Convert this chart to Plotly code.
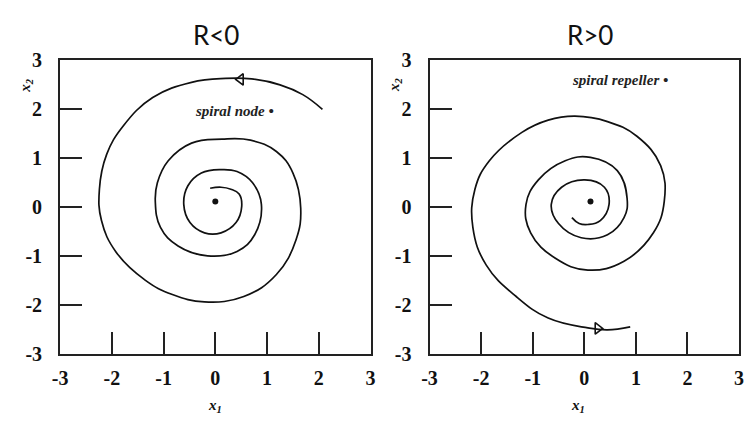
import plotly.graph_objects as go

# ---- data ----
node_x = [2.07, 1.69, 1.25, 0.7, 0.2, -0.46, -1.21, -1.78, -2.1, -2.24, -2.2, -1.92, -1.35, -0.83, -0.21,
          0.55, 1.18, 1.56, 1.65, 1.5, 1.18, 0.68, 0.13, -0.46, -0.91, -1.12, -1.16, -1.06, -0.72, -0.15,
          0.42, 0.76, 0.89, 0.72, 0.42, 0.11, -0.27, -0.53, -0.61, -0.49, -0.21, 0.11, 0.4, 0.51, 0.46,
          0.3, 0.11, -0.1]
node_y = [2.0, 2.3, 2.5, 2.62, 2.63, 2.55, 2.24, 1.66, 1.08, 0.37, -0.27, -0.91, -1.49, -1.78, -1.93,
          -1.82, -1.37, -0.66, -0.02, 0.7, 1.14, 1.37, 1.39, 1.31, 0.95, 0.5, 0.12, -0.41, -0.79, -0.99,
          -0.9, -0.56, 0.06, 0.5, 0.73, 0.77, 0.7, 0.44, 0.06, -0.31, -0.52, -0.52, -0.31, 0.02, 0.27,
          0.37, 0.41, 0.39]

rep_x = [-0.24, -0.1, 0.07, 0.31, 0.48, 0.39, 0.01, -0.44, -0.64, -0.5, -0.06, 0.45, 0.77, 0.83, 0.64,
         0.12, -0.37, -0.89, -1.13, -1.04, -0.56, 0.07, 0.77, 1.34, 1.55, 1.48, 1.02, 0.45, -0.18, -0.7,
         -1.21, -1.84, -2.12, -2.16, -1.9, -1.32, -0.7, 0.07, 0.45, 0.89]
rep_y = [-0.21, -0.33, -0.35, -0.27, 0.06, 0.41, 0.56, 0.41, 0.06, -0.33, -0.62, -0.56, -0.21, 0.18, 0.75,
         1.02, 0.95, 0.56, 0.06, -0.52, -1.04, -1.28, -1.1, -0.52, 0.12, 0.85, 1.45, 1.75, 1.86, 1.78,
         1.53, 0.95, 0.37, -0.41, -1.18, -1.82, -2.26, -2.46, -2.5, -2.44]

fixed_pts = [(0.0, 0.12), (0.12, 0.12)]
arrow_pts = [(0.49, 2.61), (0.26, -2.47)]
panel_titles = ["R<0", "R>0"]
panel_notes = ["spiral node •", "spiral repeller •"]
note_pos = [(0.38, 1.97), (0.7, 2.59)]
tick_vals = [-3, -2, -1, 0, 1, 2, 3]
tick_text = ["-3", "-2", "-1", "0", "1", "2", "3"]

SERIF = "Liberation Serif, Times New Roman, Times, serif"

fig = go.Figure()

LINE = dict(color="#111111", width=1.7)
# left panel
fig.add_trace(go.Scatter(x=node_x, y=node_y, mode="lines", line=dict(shape="spline", smoothing=1.2, **LINE),
                         xaxis="x", yaxis="y", showlegend=False))
fig.add_trace(go.Scatter(x=[fixed_pts[0][0]], y=[fixed_pts[0][1]], mode="markers",
                         marker=dict(color="#111111", size=6), xaxis="x", yaxis="y", showlegend=False))
fig.add_trace(go.Scatter(x=[arrow_pts[0][0]], y=[arrow_pts[0][1]], mode="markers",
                         marker=dict(symbol="triangle-left-open", size=10, color="#111111", line=dict(width=1.6)),
                         xaxis="x", yaxis="y", showlegend=False))
# right panel
fig.add_trace(go.Scatter(x=rep_x, y=rep_y, mode="lines", line=dict(shape="spline", smoothing=1.2, **LINE),
                         xaxis="x2", yaxis="y2", showlegend=False))
fig.add_trace(go.Scatter(x=[fixed_pts[1][0]], y=[fixed_pts[1][1]], mode="markers",
                         marker=dict(color="#111111", size=6), xaxis="x2", yaxis="y2", showlegend=False))
fig.add_trace(go.Scatter(x=[arrow_pts[1][0]], y=[arrow_pts[1][1]], mode="markers",
                         marker=dict(symbol="triangle-right-open", size=10, color="#111111", line=dict(width=1.6)),
                         xaxis="x2", yaxis="y2", showlegend=False))

TICKFONT = dict(family=SERIF, size=20, color="#111111", weight="bold")

def xax(domain, anchor):
    return dict(domain=domain, anchor=anchor, range=[-3, 3], tickvals=tick_vals, ticktext=tick_text,
                ticks="inside", ticklen=22, tickwidth=2, tickcolor="#222222",
                showline=True, linecolor="#222222", linewidth=2, mirror=True,
                showgrid=False, zeroline=False, tickfont=TICKFONT, ticklabelstandoff=5, fixedrange=True)

def yax(domain, anchor):
    return dict(domain=domain, anchor=anchor, range=[-3, 3], tickvals=tick_vals, ticktext=tick_text,
                ticks="inside", ticklen=22, tickwidth=2, tickcolor="#222222",
                showline=True, linecolor="#222222", linewidth=2, mirror=True,
                showgrid=False, zeroline=False, tickfont=TICKFONT, ticklabelstandoff=12, fixedrange=True)

W, H = 747, 427
ydom = [(H - 362) / H, (H - 52) / H]
fig.update_layout(
    width=W, height=H, margin=dict(l=0, r=0, t=0, b=0),
    paper_bgcolor="white", plot_bgcolor="white",
    xaxis=xax([53 / W, 369 / W], "y"),
    yaxis=yax(ydom, "x"),
    xaxis2=xax([429 / W, 744 / W], "y2"),
    yaxis2=yax(ydom, "x2"),
)

anns = []
for t, cx in zip(panel_titles, [212, 592]):
    anns.append(dict(text=t, x=cx / W, y=1 - 25 / H, xref="paper", yref="paper", showarrow=False,
                     font=dict(family="Lato", size=26, color="#111111"), xanchor="center", yanchor="middle"))
for cx in [211, 580]:
    anns.append(dict(text="<i>x<sub>1</sub></i>", x=cx / W, y=1 - 416 / H, xref="paper", yref="paper",
                     showarrow=False, font=dict(family=SERIF, size=15, color="#111111", weight="bold"),
                     xanchor="center", yanchor="middle"))
for cx in [18, 394]:
    anns.append(dict(text="<i>x<sub>2</sub></i>", x=cx / W, y=1 - 78 / H, xref="paper", yref="paper",
                     showarrow=False, textangle=-90,
                     font=dict(family=SERIF, size=15, color="#111111", weight="bold"),
                     xanchor="center", yanchor="middle"))
for i, (txt, (nx, ny)) in enumerate(zip(panel_notes, note_pos)):
    ax = "x" if i == 0 else "x2"
    ay = "y" if i == 0 else "y2"
    anns.append(dict(text="<i>" + txt + "</i>", x=nx, y=ny, xref=ax, yref=ay, showarrow=False,
                     font=dict(family=SERIF, size=15, color="#222222", weight="bold"),
                     xanchor="center", yanchor="middle"))
fig.update_layout(annotations=anns)

fig.write_html("out.html")
